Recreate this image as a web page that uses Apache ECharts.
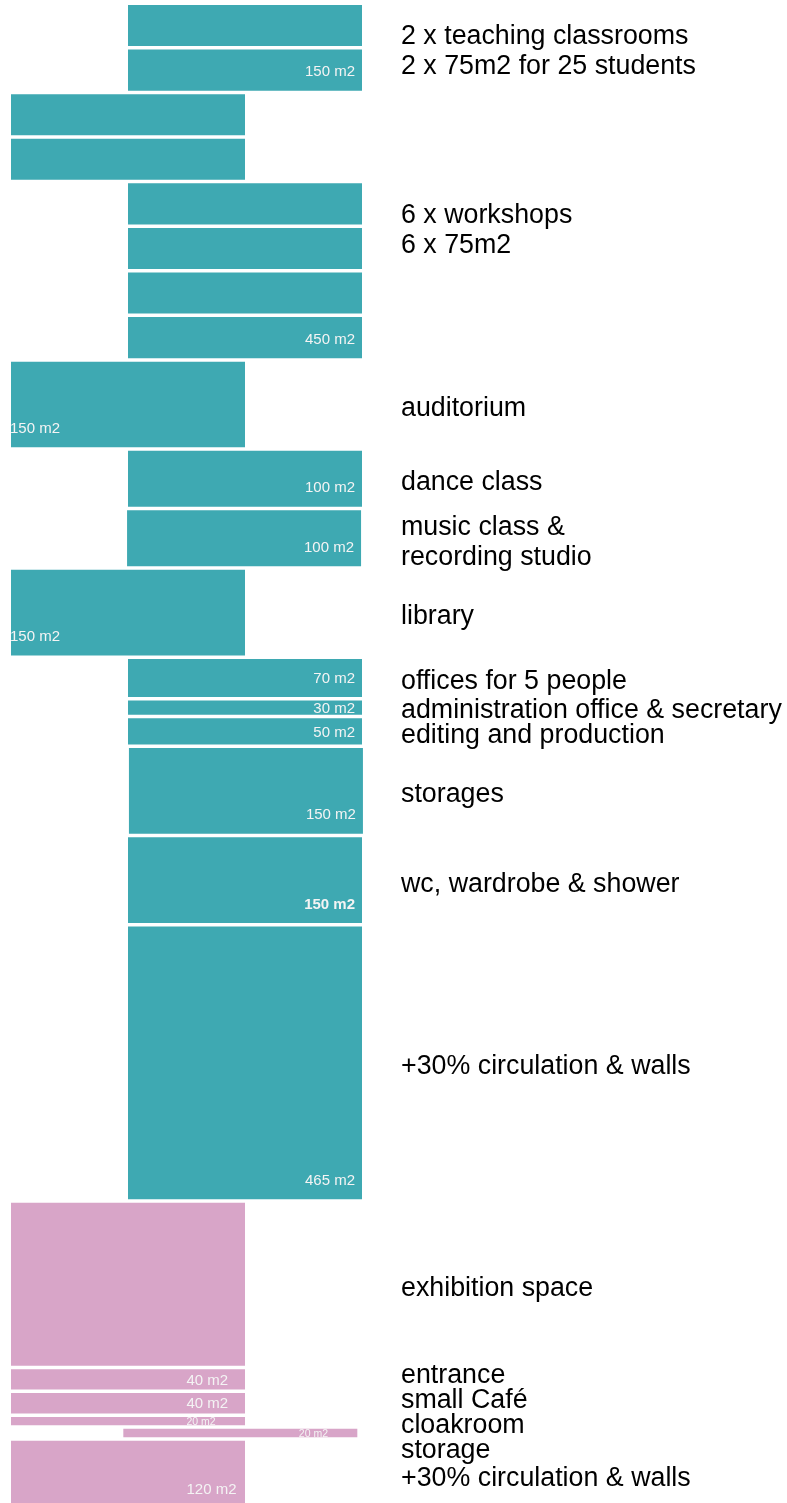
<!DOCTYPE html>
<html>
<head>
<meta charset="utf-8">
<title>room programme</title>
<script src="https://cdn.jsdelivr.net/npm/echarts@6/dist/echarts.min.js"></script>
<style>
  html, body { margin: 0; padding: 0; background: #fff; overflow: hidden; }
  #main { width: 787px; height: 1512px; }
</style>
</head>
<body>
<div id="main"></div>
<script>
// one entry per room block, top to bottom
const rooms = ['teaching', 'teaching', 'workshop', 'workshop', 'workshop', 'workshop', 'workshop', 'workshop',
  'auditorium', 'dance', 'music', 'library', 'offices', 'admin', 'editing', 'storages', 'wc', 'circulation',
  'exhibition', 'entrance', 'cafe', 'cloakroom', 'storage', 'circulation2'];
const areas = [75, 75, 75, 75, 75, 75, 75, 75,
  150, 100, 100, 150, 70, 30, 50, 150, 150, 465,
  280, 40, 40, 20, 20, 120];
// which column the block sits in (in block widths)
const column = [0.5, 0.5, 0, 0, 0.5, 0.5, 0.5, 0.5,
  0, 0.5, 0.496, 0, 0.5, 0.5, 0.5, 0.504, 0.5, 0.5,
  0, 0, 0, 0, 0.48, 0];
const zones = ['school', 'school', 'school', 'school', 'school', 'school', 'school', 'school',
  'school', 'school', 'school', 'school', 'school', 'school', 'school', 'school', 'school', 'school',
  'public', 'public', 'public', 'public', 'public', 'public'];
// m2 tag printed inside a block (null = none)
const totals = [null, 150, null, null, null, null, null, 450,
  150, 100, 100, 150, 70, 30, 50, 150, 150, 465,
  null, 40, 40, 20, 20, 120];
const boldTags = [16];

const groups = ['teaching', 'workshop', 'auditorium', 'dance', 'music', 'library', 'offices', 'admin',
  'editing', 'storages', 'wc', 'circulation', 'exhibition', 'entrance', 'cafe', 'cloakroom', 'storage', 'circulation2'];
const groupNotes = [
  '2 x teaching classrooms\n2 x 75m2 for 25 students',
  '6 x workshops\n6 x 75m2',
  'auditorium',
  'dance class',
  'music class &\nrecording studio',
  'library',
  'offices for 5 people',
  'administration office & secretary',
  'editing and production',
  'storages',
  'wc, wardrobe & shower',
  '+30% circulation & walls',
  'exhibition space',
  'entrance',
  'small Café',
  'cloakroom',
  'storage',
  '+30% circulation & walls'
];

const GAP = 3.5;
const FONT = '"Liberation Sans", Arial, Helvetica, sans-serif';
const colors = { school: '#3ea9b2', public: '#d8a5c8' };

// cumulative start of each block, in m2
const starts = [];
let run = 0;
areas.forEach(function (a) { starts.push(run); run += a; });
const total = run;

const chart = echarts.init(document.getElementById('main'));

chart.setOption({
  animation: false,
  grid: { left: 11, top: 5, width: 702, bottom: 0 },
  xAxis: { type: 'value', min: 0, max: 3, show: false },
  yAxis: { type: 'value', min: 0, max: total, inverse: true, show: false },
  series: [{
    type: 'custom',
    clip: false,
    data: areas.map(function (a, i) { return [column[i], starts[i], starts[i] + a, i]; }),
    renderItem: function (params, api) {
      const i = api.value(3);
      const p0 = api.coord([api.value(0), api.value(1)]);
      const p1 = api.coord([api.value(0) + 1, api.value(2)]);
      const w = p1[0] - p0[0];
      const h = p1[1] - p0[1] - GAP;
      const children = [{
        type: 'rect',
        shape: { x: p0[0], y: p0[1], width: w, height: h },
        style: { fill: colors[zones[i]] }
      }];
      if (totals[i] != null) {
        const small = h < 12;
        const cy = Math.max(p0[1] + h / 2, p0[1] + h - 19.5);
        let tx, align;
        if (zones[i] === 'public') { tx = p0[0] + w * 0.75; align = 'left'; }
        else if (column[i] === 0) { tx = p0[0] - 1; align = 'left'; }
        else { tx = p0[0] + w - 7; align = 'right'; }
        const bold = boldTags.indexOf(i) >= 0 ? 'bold ' : '';
        children.push({
          type: 'text',
          style: {
            text: totals[i] + ' m2',
            x: tx, y: cy + 1,
            align: align, verticalAlign: 'middle',
            fill: '#f4f4f4',
            font: bold + (small ? 10.5 : 15) + 'px ' + FONT
          }
        });
      }
      return { type: 'group', children: children };
    }
  }]
});

// notes on the right, centred on their blocks, pushed apart where they collide
const LINE = 30, ROW = 25;
const boxes = groups.map(function (g, k) {
  const idx = [];
  rooms.forEach(function (r, i) { if (r === g) idx.push(i); });
  const first = idx[0], last = idx[idx.length - 1];
  const top = chart.convertToPixel({ gridIndex: 0 }, [0, starts[first]])[1];
  const bottom = chart.convertToPixel({ gridIndex: 0 }, [0, starts[last] + areas[last]])[1] - GAP;
  const lines = groupNotes[k].split('\n').length;
  return { text: groupNotes[k], want: (top + bottom) / 2, h: ROW + LINE * (lines - 1) };
});

let clusters = boxes.map(function (b) { return { items: [b] }; });
function layout(c) {
  let acc = 0, sum = 0;
  c.items.forEach(function (b) { b.rel = acc + b.h / 2; acc += b.h; sum += b.want - b.rel; });
  c.top = sum / c.items.length;
  c.bottom = c.top + acc;
}
clusters.forEach(layout);
let merged = true;
while (merged) {
  merged = false;
  for (let k = 1; k < clusters.length; k++) {
    if (clusters[k - 1].bottom > clusters[k].top) {
      clusters[k - 1].items = clusters[k - 1].items.concat(clusters[k].items);
      clusters.splice(k, 1);
      layout(clusters[k - 1]);
      merged = true;
      break;
    }
  }
}

const noteX = chart.convertToPixel({ gridIndex: 0 }, [1.5, 0])[0] + 39;
const graphics = [];
clusters.forEach(function (c) {
  c.items.forEach(function (b) {
    graphics.push({
      type: 'text',
      x: noteX,
      y: c.top + b.rel + 4,
      style: {
        text: b.text,
        font: '26.8px ' + FONT,
        lineHeight: LINE,
        fill: '#000',
        verticalAlign: 'middle'
      }
    });
  });
});
chart.setOption({ graphic: graphics });
</script>
</body>
</html>
